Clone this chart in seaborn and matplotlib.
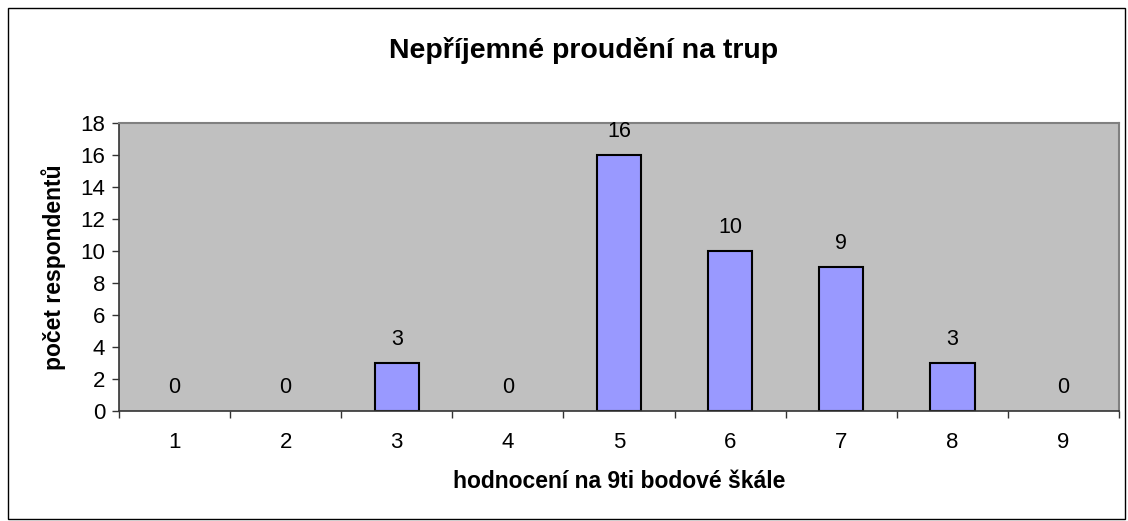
import matplotlib
matplotlib.use("Agg")
import matplotlib.pyplot as plt
import seaborn as sns
import pandas as pd
import numpy as np
from matplotlib.ticker import FixedLocator
from matplotlib.patches import Rectangle

categories = ["1", "2", "3", "4", "5", "6", "7", "8", "9"]
values = [0, 0, 3, 0, 16, 10, 9, 3, 0]
title = "Nepříjemné proudění na trup"
xlabel = "hodnocení na 9ti bodové škále"
ylabel = "počet respondentů"

sns.set_theme(style="white")
plt.rcParams['font.family'] = ['Liberation Sans', 'DejaVu Sans']
plt.rcParams['text.color'] = 'black'
plt.rcParams['axes.labelcolor'] = 'black'
plt.rcParams['xtick.color'] = 'black'
plt.rcParams['ytick.color'] = 'black'

df = pd.DataFrame({"cat": categories, "val": values})

fig = plt.figure(figsize=(11.28, 5.21), dpi=100)
ax = fig.add_axes([119/1128, 1-411/521, 1000/1128, 288/521])
ax.set_facecolor("#C0C0C0")

sns.barplot(data=df, x="cat", y="val", color="#9999FF", width=0.4,
            edgecolor="black", linewidth=1.5, saturation=1, ax=ax)
for p in ax.patches:
    if p.get_height() == 0:
        p.set_visible(False)

ax.set_xlim(-0.5, len(categories) - 0.5)
ax.set_ylim(0, 18)
ax.set_yticks(np.arange(0, 19, 2))
ax.tick_params(axis="y", which="major", direction="out", length=5, width=1,
               color="#333333", labelcolor="black", labelsize=16, pad=5, left=True)
ax.tick_params(axis="x", which="major", length=0, labelsize=16, labelcolor="black", pad=15)
ax.xaxis.set_minor_locator(FixedLocator(np.arange(-0.5, len(categories), 1)))
ax.tick_params(axis="x", which="minor", direction="out", length=5, width=1,
               color="#333333", bottom=True)

for name, s in ax.spines.items():
    if name in ("left", "bottom"):
        s.set_color("#333333")
        s.set_linewidth(1.2)
    else:
        s.set_color("#808080")
        s.set_linewidth(1.5)

for i, v in enumerate(values):
    ax.text(i, v + 0.8, str(v), ha="center", va="bottom", fontsize=15.5, color="black")

ax.set_xlabel(xlabel, fontsize=16.5, fontweight="bold", labelpad=12, color="black")
ax.set_ylabel(ylabel, fontsize=16.5, fontweight="bold", labelpad=10, color="black")
fig.text(584/1128, 1-50/521, title, ha="center", va="center", fontsize=20.5,
         fontweight="bold", color="black")

fig.patches.append(Rectangle((8/1128, 2/521), 1117/1128, 511/521, transform=fig.transFigure,
                             fill=False, edgecolor="black", linewidth=1))

fig.savefig("out.png", dpi=100)
